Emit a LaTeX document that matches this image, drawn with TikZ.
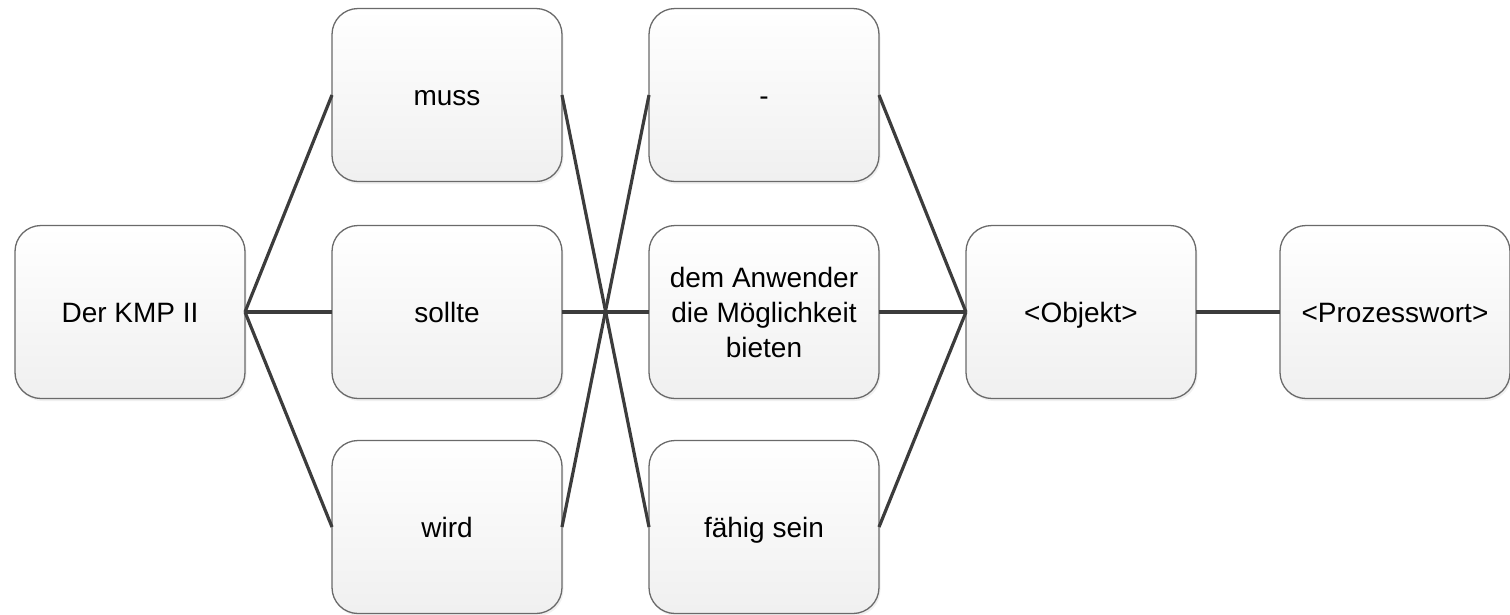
\documentclass[tikz,border=0pt]{standalone}
\usepackage{fontspec}
\setmainfont{Liberation Sans}
\usetikzlibrary{shadows}
\definecolor{boxline}{HTML}{6A6A6A}
\definecolor{link}{HTML}{3C3C3C}
\tikzset{
  wordbox/.style={draw=boxline, line width=1.3pt, rounded corners=26pt,
    top color=white, bottom color=black!6,
    minimum width=230pt, minimum height=173pt, outer sep=0pt,
    align=center, font=\fontsize{28}{35}\selectfont,
    drop shadow={opacity=0.12, shadow xshift=1.5pt, shadow yshift=-2.5pt}},
  oneline/.style={text height=20pt, text depth=0pt},
  link/.style={draw=link, line width=3.2pt}
}
\begin{document}
\begin{tikzpicture}[x=1pt, y=-1pt]
  \useasboundingbox (0,0) rectangle (1510,614);
  % sentence template: one box per slot
  \node[wordbox, oneline] (kmp)     at (130,312)  {Der KMP II};
  \node[wordbox, oneline] (muss)    at (447,95)   {muss};
  \node[wordbox, oneline] (sollte)  at (447,312)  {sollte};
  \node[wordbox, oneline] (wird)    at (447,527)  {wird};
  \node[wordbox, oneline] (leer)    at (764,95)   {-};
  \node[wordbox]          (bieten)  at (764,312)  {dem Anwender\\die Möglichkeit\\bieten};
  \node[wordbox, oneline] (faehig)  at (764,527)  {fähig sein};
  \node[wordbox, oneline] (objekt)  at (1081,312) {<Objekt>};
  \node[wordbox, oneline] (prozess) at (1395,312) {<Prozesswort>};
  % alternatives between the slots
  \draw[link] (kmp.east) -- (muss.west);
  \draw[link] (kmp.east) -- (sollte.west);
  \draw[link] (kmp.east) -- (wird.west);
  \draw[link] (muss.east) -- (faehig.west);
  \draw[link] (sollte.east) -- (bieten.west);
  \draw[link] (wird.east) -- (leer.west);
  \draw[link] (leer.east) -- (objekt.west);
  \draw[link] (bieten.east) -- (objekt.west);
  \draw[link] (faehig.east) -- (objekt.west);
  \draw[link] (objekt.east) -- (prozess.west);
\end{tikzpicture}
\end{document}
